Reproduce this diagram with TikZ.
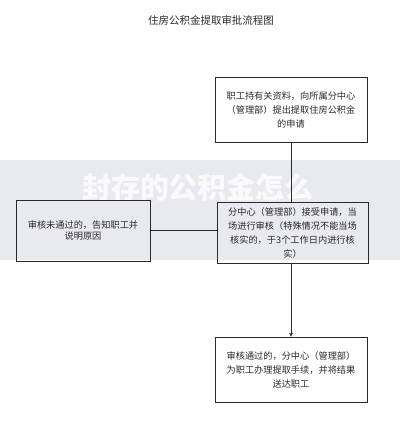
\documentclass[tikz,border=0pt]{standalone}
\usepackage{fontspec}
\newfontfamily\cjk{Noto Sans CJK SC}
\usetikzlibrary{arrows.meta}
\definecolor{band}{HTML}{E9E9F0}
\definecolor{ink}{HTML}{2A2A2A}
\tikzset{
  flowbox/.style={draw=ink, line width=0.8pt, rectangle, inner sep=0pt, align=center,
    text=ink, font=\cjk\fontsize{9.2}{14}\selectfont},
  link/.style={draw=ink, line width=0.8pt},
}
\begin{document}
\begin{tikzpicture}[x=1pt,y=-1pt]
\useasboundingbox (0,0) rectangle (400,424);
\fill[white] (0,0) rectangle (400,424);
\fill[band] (0,160) rectangle (400,260);
\node[text=white, opacity=0.8, font=\cjk\bfseries\fontsize{29}{31}\selectfont] (wm) at (198,187) {封存的公积金怎么};
\node[text=ink, font=\cjk\fontsize{10.5}{12}\selectfont] (title) at (211,20) {住房公积金提取审批流程图};
\node[flowbox, minimum width=152pt, minimum height=65pt] (b1) at (291,109.5)
  {职工持有关资料，向所属分中心\\（管理部）提出提取住房公积金\\的申请};
\node[flowbox, minimum width=151pt, minimum height=61pt] (b2) at (292.5,232.5)
  {分中心（管理部）接受申请，当\\场进行审核（特殊情况不能当场\\核实的，于3个工作日内进行核\\实）};
\node[flowbox, minimum width=134pt, minimum height=61pt, font=\cjk\fontsize{9.2}{11}\selectfont] (lb) at (83,230.5)
  {审核未通过的，告知职工并\\说明原因};
\node[flowbox, minimum width=152pt, minimum height=65pt] (b3) at (291,369.5)
  {审核通过的，分中心（管理部）\\为职工办理提取手续，并将结果\\送达职工};
\draw[link] (b1.south) -- (b2.north -| b1.south);
\draw[link] (lb.east) -- (lb.east -| b2.west);
\draw[link, -{Stealth[length=4pt,width=4pt]}] (b2.south -| b3.north) -- (b3.north);
\end{tikzpicture}
\end{document}
